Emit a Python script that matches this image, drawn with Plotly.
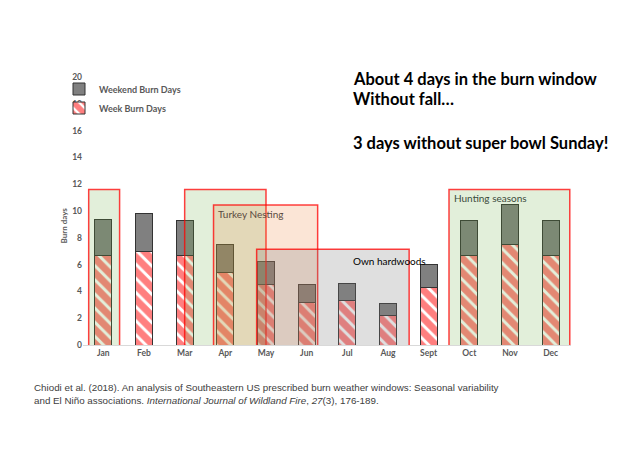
import plotly.graph_objects as go

# burn days per month
months = ["Jan", "Feb", "Mar", "Apr", "May", "Jun", "Jul", "Aug", "Sept", "Oct", "Nov", "Dec"]
week_days = [6.7, 7.0, 6.7, 5.4, 4.5, 3.2, 3.3, 2.2, 4.3, 6.7, 7.5, 6.7]
total_days = [9.4, 9.8, 9.3, 7.5, 6.2, 4.5, 4.6, 3.1, 6.0, 9.3, 10.5, 9.3]
weekend_days = [round(t - w, 2) for t, w in zip(total_days, week_days)]

# season boxes: (x0, x1, top, fill)
boxes = [
    (-0.36, 0.40, 11.6, "rgba(112,173,71,0.2)"),
    (2.0, 4.0, 11.6, "rgba(112,173,71,0.2)"),
    (2.71, 5.27, 10.45, "rgba(237,125,49,0.2)"),
    (3.77, 7.52, 7.15, "rgba(128,128,128,0.25)"),
    (8.50, 11.47, 11.6, "rgba(112,173,71,0.2)"),
]

W, H = 618, 464
OFF = 8  # page body margin shifts the figure
L, T = 82.6 - OFF, 77 - OFF
R, B = W - (571.4 - OFF), H - (345 - OFF)


def px(x):
    return (x - OFF - L) / (W - L - R)


def py(y):
    return (H - B - (y - OFF)) / (H - T - B)


fig = go.Figure()

fig.add_trace(go.Bar(
    x=months, y=week_days, name="Week Burn Days", width=0.42,
    marker=dict(color="white", line=dict(color="#333333", width=1),
                pattern=dict(shape="\\", fgcolor="#ff0000", bgcolor="white",
                             size=10, solidity=0.7)),
    legend="legend2", showlegend=True,
))
fig.add_trace(go.Bar(
    x=months, y=weekend_days, name="Weekend Burn Days", width=0.42,
    marker=dict(color="#808080", line=dict(color="#333333", width=1)),
    legend="legend", showlegend=True,
))

for x0, x1, top, fill in boxes:
    fig.add_shape(type="rect", xref="x", yref="y", x0=x0, x1=x1, y0=-0.1, y1=top,
                  fillcolor=fill, line=dict(color="rgba(255,0,0,0.75)", width=1.5),
                  layer="above")

fig.add_annotation(x=2.78, y=9.75, xref="x", yref="y", text="Turkey Nesting",
                   showarrow=False, xanchor="left", font=dict(size=10, color="#5a4a40"))
fig.add_annotation(x=6.1, y=6.3, xref="x", yref="y", text="Own hardwoods",
                   showarrow=False, xanchor="left", font=dict(size=10, color="black"))
fig.add_annotation(x=8.58, y=11.0, xref="x", yref="y", text="Hunting seasons",
                   showarrow=False, xanchor="left", font=dict(size=10, color="#3a4a3a"))

fig.add_annotation(x=px(57), y=py(225), xref="paper", yref="paper", text="<b>Burn days</b>",
                   showarrow=False, textangle=-90, font=dict(size=8, color="#595959"))

big = dict(family="Lato", size=16.5, color="black")
for txt, yp in [("<b>About 4 days in the burn window</b>", 79),
                ("<b>Without fall…</b>", 99),
                ("<b>3 days without super bowl Sunday!</b>", 143)]:
    fig.add_annotation(x=px(351), y=py(yp), xref="paper", yref="paper",
                       text=txt, showarrow=False, xanchor="left", yanchor="middle",
                       font=big)

fig.add_annotation(
    x=px(32), y=py(394), xref="paper", yref="paper", showarrow=False,
    xanchor="left", yanchor="middle", align="left",
    text="Chiodi et al. (2018). An analysis of Southeastern US prescribed burn weather windows: Seasonal variability<br>"
         "and El Niño associations. <i>International Journal of Wildland Fire</i>, <i>27</i>(3), 176-189.",
    font=dict(family="Liberation Sans", size=9.8, color="#404040"),
)

tick_font = dict(family="Lato", size=8.5, color="#595959")
leg = dict(xref="container", yref="container", xanchor="left", yanchor="middle",
           bgcolor="rgba(0,0,0,0)", itemwidth=30,
           font=dict(size=9, color="#595959", weight="bold"))
fig.update_layout(
    width=W, height=H,
    margin=dict(l=L, r=R, t=T, b=B, autoexpand=False),
    paper_bgcolor="white", plot_bgcolor="white",
    barmode="stack",
    font=dict(family="Lato", color="#595959"),
    xaxis=dict(showline=True, linecolor="#d9d9d9", linewidth=1, ticks="",
               tickfont=tick_font, tickprefix="<b>", ticksuffix="</b>"),
    yaxis=dict(range=[0, 20], dtick=2, showgrid=False, zeroline=False,
               tickfont=tick_font, tickprefix="<b>", ticksuffix="</b>"),
    legend=dict(leg, x=(59 - OFF) / W, y=1 - (89 - OFF) / H),
    legend2=dict(leg, x=(59 - OFF) / W, y=1 - (108 - OFF) / H),
)

fig.write_html("out.html")
